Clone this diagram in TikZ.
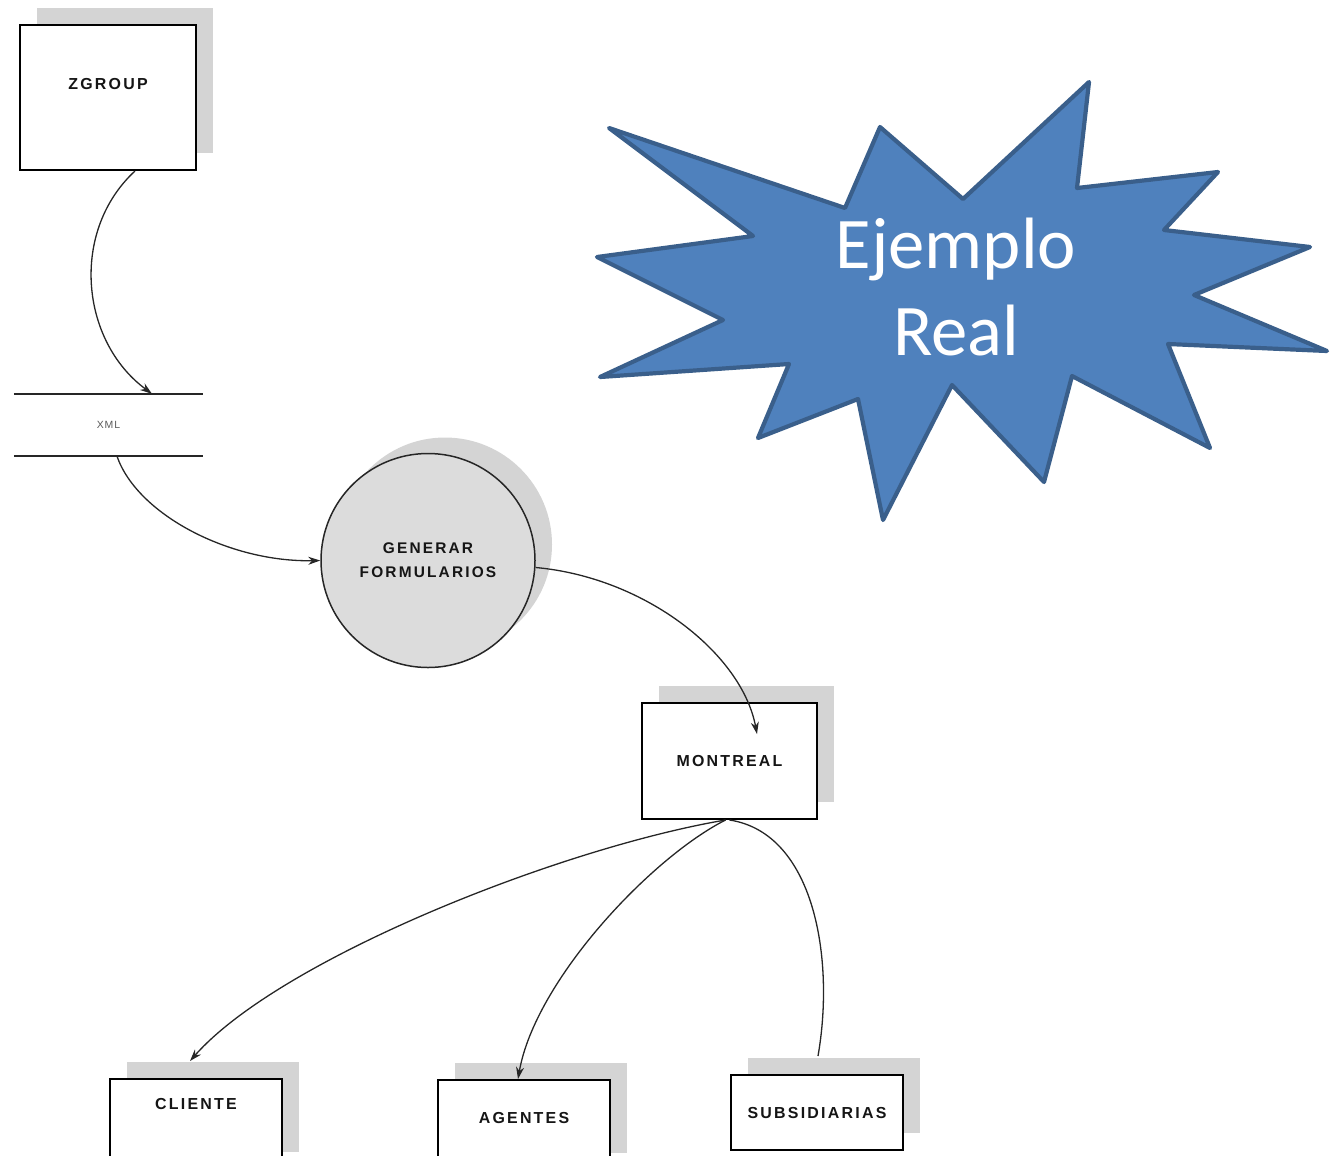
\documentclass[tikz,border=0pt]{standalone}
\usepackage{fontspec}
\usetikzlibrary{arrows.meta,shadows}
\newfontfamily\boxfont[LetterSpace=14]{Liberation Sans}
\newfontfamily\smallfont[LetterSpace=8]{Liberation Sans}
\newfontfamily\calloutfont{Carlito}
\definecolor{shadowgray}{HTML}{D4D4D4}
\definecolor{procfill}{HTML}{DCDCDC}
\definecolor{procshadow}{HTML}{D4D4D4}
\definecolor{starfill}{HTML}{4F81BD}
\definecolor{starline}{HTML}{3A5F8B}
\definecolor{inkgray}{HTML}{151515}
\begin{document}
\begin{tikzpicture}[x=1bp,y=-1bp,
  lbl/.style={font=\boxfont\bfseries\fontsize{16}{19}\selectfont, text=inkgray},
  entity/.style={draw=black, line width=2bp, fill=white, inner sep=0pt,
    general shadow={fill=shadowgray, shadow xshift=17bp, shadow yshift=17bp},
    lbl},
  process/.style={circle, draw=black!85, line width=1.5bp, fill=procfill,
    minimum size=214bp, inner sep=0pt, align=center,
    general shadow={fill=procshadow, shadow xshift=17bp, shadow yshift=16bp},
    font=\boxfont\bfseries\fontsize{15.5}{24}\selectfont, text=inkgray},
  store/.style={minimum width=189bp, minimum height=62bp, inner sep=0pt,
    font=\smallfont\fontsize{10.5}{12}\selectfont, text=black!65},
  storeline/.style={line width=2bp, draw=black!85},
  flow/.style={line width=1.3bp, draw=black!85, -{Stealth[length=12bp,width=8bp]}},
  plainflow/.style={line width=1.3bp, draw=black!85},
  burst/.style={fill=starfill, draw=starline, line width=4.2bp, line join=round},
  callout/.style={font=\calloutfont\fontsize{73}{88}\selectfont, text=white, align=center, inner sep=0pt}
]
\useasboundingbox (0,0) rectangle (1332,1155);
\clip (0,0) rectangle (1332,1155);

% external entity and data store
\node[entity, minimum width=176bp, minimum height=145bp,
      label={[lbl, yshift=13.5bp]center:ZGROUP}] (zgroup) at (108,97.5) {};
\node[store] (xml) at (108.5,425) {XML};
\draw[storeline] (xml.north west) -- (xml.north east);
\draw[storeline] (xml.south west) -- (xml.south east);

% process
\node[process] (gen) at (428,560.5) {GENERAR\\FORMULARIOS};

% destinations
\node[entity, minimum width=175bp, minimum height=116bp] (montreal) at (729.5,761) {MONTREAL};
\node[entity, minimum width=172bp, minimum height=90bp,
      label={[lbl, yshift=20bp]center:CLIENTE}] (cliente) at (196,1124) {};
\node[entity, minimum width=172bp, minimum height=90bp,
      label={[lbl, yshift=7bp]center:AGENTES}] (agentes) at (524,1125) {};
\node[entity, minimum width=172bp, minimum height=75bp] (subs) at (817,1112.5) {SUBSIDIARIAS};

% data flows
\draw[flow] ([xshift=27bp]zgroup.south) .. controls +(-65,60) and +(-72,-53) .. ([xshift=43.5bp]xml.north);
\draw[flow] ([xshift=8.5bp]xml.south) .. controls +(20,58) and +(-91,2) .. (gen.west);
\draw[flow] ([yshift=-7bp]gen.east) .. controls +(110,10) and +(-15,-80) .. ([xshift=27.5bp,yshift=-32bp]montreal.north);
\draw[flow] ([xshift=-4bp]montreal.south) .. controls +(-165,28) and +(90,-102) .. ([xshift=-6bp,yshift=17bp]cliente.north);
\draw[flow] ([xshift=-4bp]montreal.south) .. controls +(-75,38) and +(17,-98) .. ([xshift=-6bp]agentes.north);
\draw[plainflow] (montreal.south) .. controls +(85,13) and +(17,-97) .. ([xshift=1bp,yshift=18bp]subs.north);

% callout burst
\draw[burst] (609,128) -- (845,208) -- (880,127) -- (963,199) -- (1089,82) -- (1077,188)
  -- (1218,172) -- (1164,230) -- (1310,247) -- (1194,295) -- (1327,351) -- (1168,344)
  -- (1210,448) -- (1072,376) -- (1044,482) -- (952,385) -- (883,520) -- (858,399)
  -- (758,438) -- (789,364) -- (600,377) -- (723,320) -- (597,257) -- (753,236) -- cycle;
\node[callout] (ejemplo) at (956,287) {Ejemplo\\Real};
\end{tikzpicture}
\end{document}
